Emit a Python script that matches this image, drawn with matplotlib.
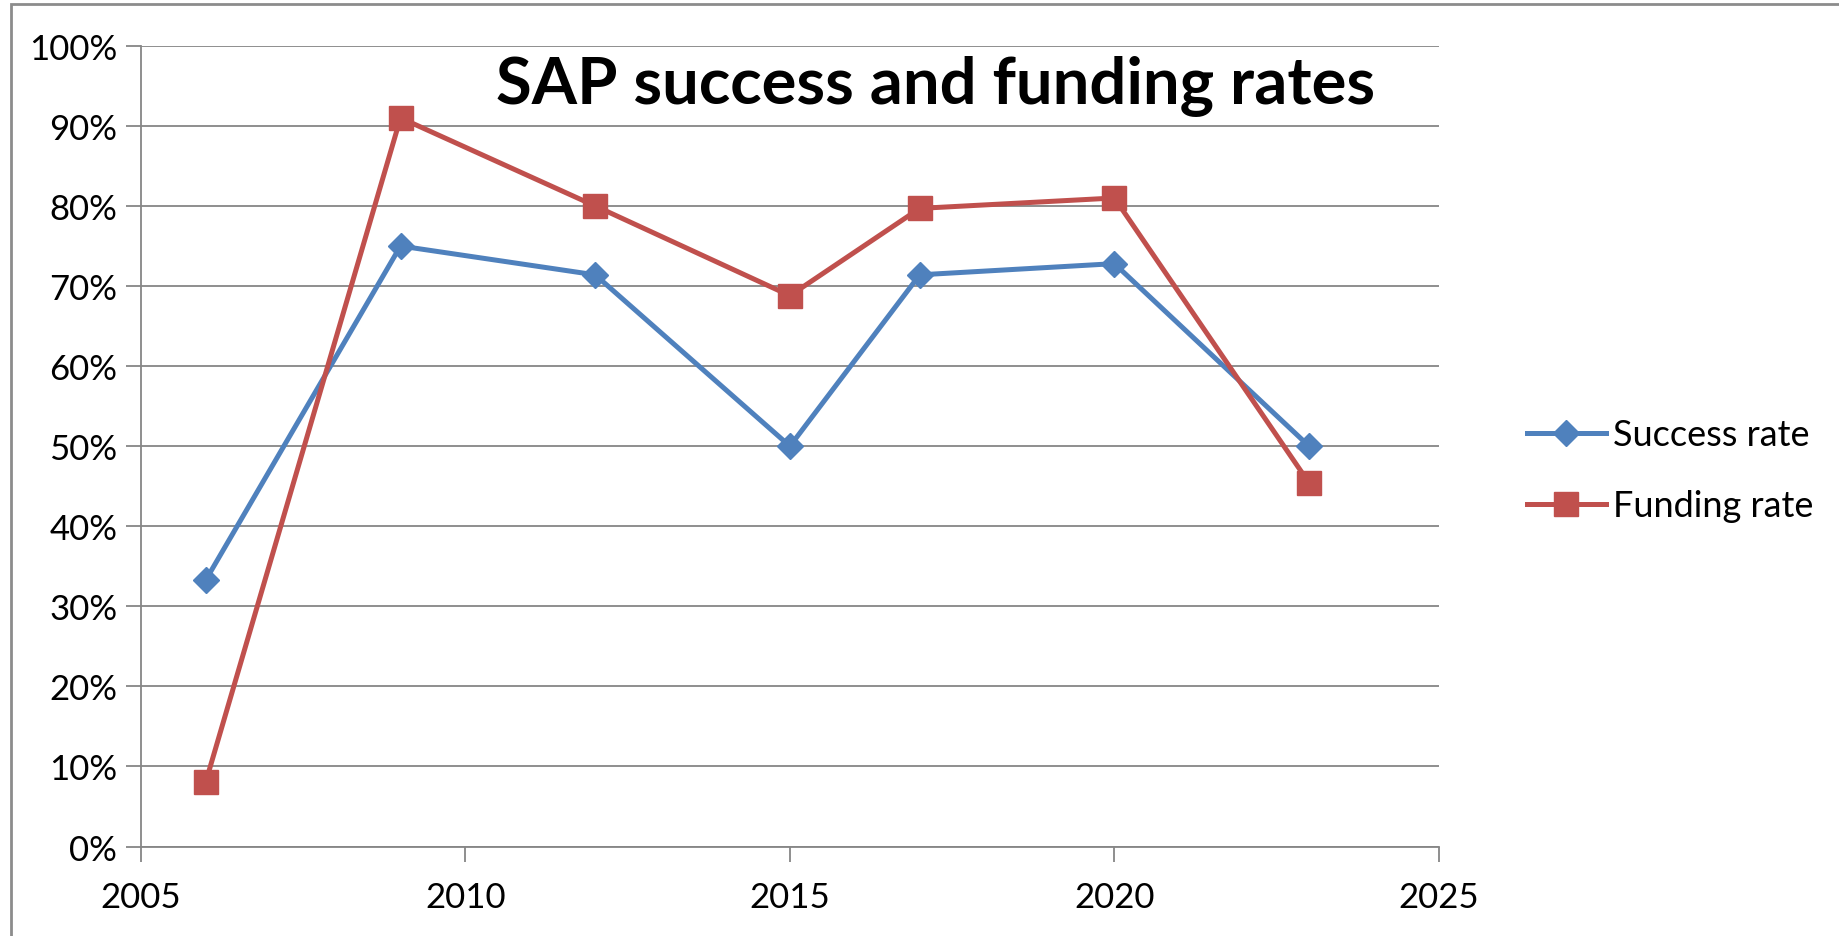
import matplotlib
matplotlib.use('Agg')
import matplotlib.pyplot as plt
from matplotlib.ticker import FuncFormatter, MultipleLocator
from matplotlib.patches import Rectangle

years = [2006, 2009, 2012, 2015, 2017, 2020, 2023]
success_rate = [0.333, 0.75, 0.714, 0.50, 0.714, 0.728, 0.50]
funding_rate = [0.081, 0.91, 0.80, 0.688, 0.797, 0.81, 0.454]
series_names = ['Success rate', 'Funding rate']
title = 'SAP success and funding rates'

plt.rcParams['font.family'] = ['Lato', 'DejaVu Sans']

fig = plt.figure(figsize=(18.4, 9.37), dpi=100)
ax = fig.add_axes([0.0766, 0.0955, 0.7054, 0.8545])

grid_col = '#868686'
ax.plot(years, success_rate, color='#4F81BD', lw=3.6, marker='D', ms=13,
        label=series_names[0])
ax.plot(years, funding_rate, color='#C0504D', lw=3.6, marker='s', ms=17,
        label=series_names[1])

ax.set_xlim(2005, 2025)
ax.set_ylim(0, 1)
ax.xaxis.set_major_locator(MultipleLocator(5))
ax.yaxis.set_major_locator(MultipleLocator(0.1))
ax.yaxis.set_major_formatter(FuncFormatter(lambda v, p: '%d%%' % round(v * 100)))
ax.grid(axis='y', color=grid_col, lw=1.3)
ax.set_axisbelow(True)
for s in ['top', 'right']:
    ax.spines[s].set_visible(False)
for s in ['left', 'bottom']:
    ax.spines[s].set_color(grid_col)
    ax.spines[s].set_linewidth(1.3)
ax.tick_params(axis='both', colors=grid_col, labelcolor='black', labelsize=25,
               length=11, width=1.3)
ax.tick_params(axis='x', pad=14)
ax.tick_params(axis='y', pad=6)

ax.text(0.612, 0.95, title, transform=ax.transAxes, ha='center', va='center',
        fontsize=47, fontweight='bold')

leg = fig.legend(loc='center left', bbox_to_anchor=(0.812, 0.497), frameon=False,
                 fontsize=26, handlelength=2.2, labelspacing=1.05, handletextpad=0.2)

fig.patches.append(Rectangle((11 / 1840, -0.01), 1.0, 0.005 + 1 - 5 / 937 + 0.005,
                             transform=fig.transFigure, fill=False,
                             edgecolor='#8c8c8c', lw=2))

fig.savefig('out.png', dpi=100)
